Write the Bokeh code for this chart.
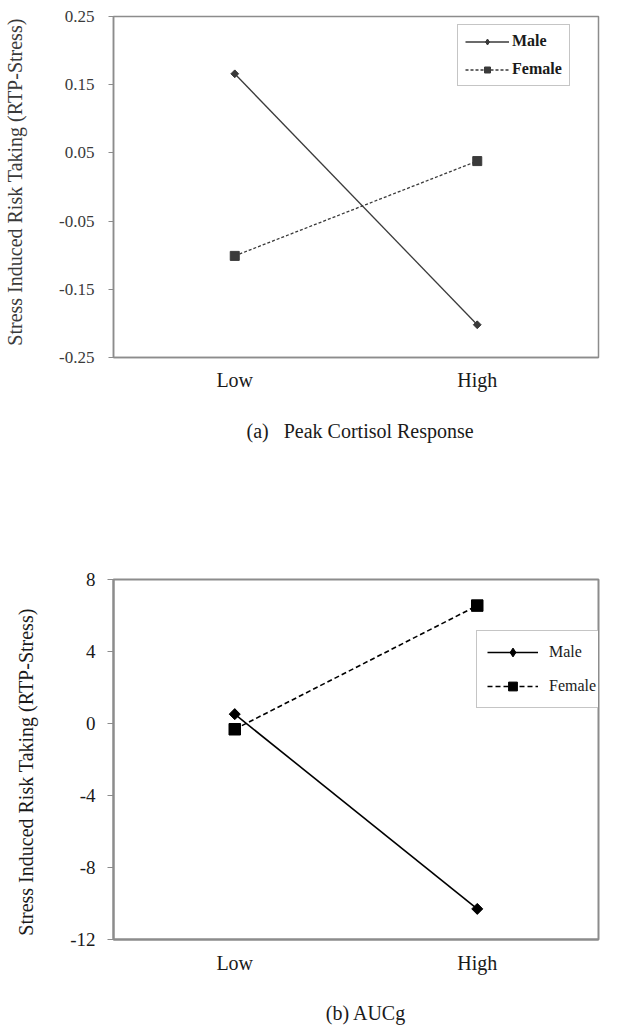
import math
from bokeh.plotting import figure
from bokeh.models import FactorRange, Range1d, FixedTicker, Legend, LegendItem, Title
from bokeh.layouts import column
from bokeh.embed import file_html
from bokeh.resources import INLINE

# ---------------- data ----------------
categories = ["Low", "High"]

# (a) Peak Cortisol Response
a_male = [0.166, -0.202]
a_female = [-0.101, 0.038]
a_ticks = [-0.25, -0.15, -0.05, 0.05, 0.15, 0.25]
a_tick_labels = ["-0.25", "-0.15", "-0.05", "0.05", "0.15", "0.25"]

# (b) AUCg
b_male = [0.52, -10.3]
b_female = [-0.32, 6.55]
b_ticks = [-12, -8, -4, 0, 4, 8]
b_tick_labels = ["-12", "-8", "-4", "0", "4", "8"]

series_names = ["Male", "Female"]
y_title = "Stress Induced Risk Taking (RTP-Stress)"
caption_a = "(a)\u00a0\u00a0 Peak Cortisol Response"
caption_b = "(b) AUCg"

FONT = "Liberation Serif"
NB = "\u00a0"


def make_panel(male, female, ticks, tick_labels, yr, cfg):
    p = figure(
        x_range=FactorRange(factors=categories, range_padding=0),
        y_range=Range1d(*yr),
        width=627, height=cfg["height"],
        min_border_left=cfg["bl"], min_border_right=cfg["br"],
        min_border_top=cfg["bt"], min_border_bottom=cfg["bb"],
        output_backend="svg", toolbar_location=None,
    )
    p.grid.visible = False
    p.background_fill_color = "white"
    p.border_fill_color = "white"
    p.outline_line_color = "#8c8c8c"
    p.outline_line_width = cfg["ow"]

    # y axis
    ya = p.yaxis[0]
    ya.ticker = FixedTicker(ticks=ticks)
    ya.major_label_overrides = {t: l for t, l in zip(ticks, tick_labels)}
    ya.minor_tick_line_color = None
    ya.major_tick_in = 0
    ya.major_tick_out = cfg["tick"]
    ya.major_tick_line_color = "#8c8c8c"
    ya.axis_line_color = "#8c8c8c"
    ya.axis_line_width = cfg["ow"]
    ya.major_label_text_font = FONT
    ya.major_label_text_font_size = cfg["tfs"]
    ya.major_label_text_color = cfg["tc"]
    ya.major_label_standoff = cfg["ylso"]
    ya.axis_label = cfg["ytitle"]
    ya.axis_label_text_font = FONT
    ya.axis_label_text_font_size = "20px"
    ya.axis_label_text_font_style = "normal"
    ya.axis_label_text_color = cfg["tc"]
    ya.axis_label_standoff = cfg["ytso"]

    # x axis
    xa = p.xaxis[0]
    xa.major_tick_line_color = None
    xa.minor_tick_line_color = None
    xa.axis_line_color = "#8c8c8c"
    xa.axis_line_width = cfg["ow"]
    xa.major_label_text_font = FONT
    xa.major_label_text_font_size = "20px"
    xa.major_label_text_color = "#1a1a1a"
    xa.major_label_standoff = cfg["xlso"]

    # series
    l1 = p.line(categories, male, line_color=cfg["lc"], line_width=cfg["lw"])
    # diamond used for the legend key (hidden under the rotated squares)
    dmd = p.scatter(categories, male, marker="diamond", size=cfg["dsize"] * 1.2,
                    fill_color=cfg["lc"], line_color=cfg["lc"])
    p.scatter(categories, male, marker="square", angle=math.pi / 4,
              size=cfg["dsize"], fill_color=cfg["lc"], line_color=cfg["lc"])
    l2 = p.line(categories, female, line_color=cfg["lc"], line_width=cfg["lw"],
                line_dash=cfg["dash"])
    s2 = p.scatter(categories, female, marker="square", size=cfg["ssize"],
                   fill_color=cfg["lc"], line_color=cfg["lc"])

    leg = Legend(
        items=[LegendItem(label=series_names[0], renderers=[l1, dmd]),
               LegendItem(label=series_names[1], renderers=[l2, s2])],
        location=cfg["legloc"],
        border_line_color="#8c8c8c", border_line_width=1.5,
        background_fill_color="white", background_fill_alpha=1.0,
        label_text_font=FONT, label_text_font_size="16px",
        label_text_font_style=cfg["legstyle"], label_text_color="#1a1a1a",
        label_text_line_height=1.0,
        glyph_width=cfg["gw"], glyph_height=cfg["gh"], label_height=cfg["lh"],
        label_standoff=cfg["lso"],
        padding=cfg["pad"], spacing=cfg["sp"], margin=0,
    )
    p.add_layout(leg)
    return p


cfg_a = dict(height=478, bl=110, br=29, bt=16, bb=121, ow=1.5, tick=5,
             tfs="17px", tc="#3a3a3a", ylso=14, ytso=30,
             ytitle=NB * 2 + y_title, xlso=5,
             lc="#3a3a3a", lw=1.3, dash="3 2", dsize=5.5, ssize=9,
             legloc=(344, 271), legstyle="bold", gw=44, gh=15, lh=18, lso=3,
             pad=7, sp=10)
cfg_b = dict(height=555, bl=113, br=10, bt=101, bb=94, ow=2, tick=6,
             tfs="19px", tc="#1a1a1a", ylso=12, ytso=30,
             ytitle=y_title + NB * 5, xlso=6,
             lc="black", lw=1.6, dash="5 3", dsize=7.8, ssize=11.5,
             legloc=(363, 231), legstyle="normal", gw=51, gh=22, lh=22, lso=11,
             pad=10, sp=12)

p1 = make_panel(a_male, a_female, a_ticks, a_tick_labels, (-0.25, 0.25), cfg_a)
p1.add_layout(Title(text=caption_a, align="left", offset=133,
                    text_font=FONT, text_font_size="20px",
                    text_font_style="normal", text_color="#1a1a1a",
                    standoff=48), "below")

p2 = make_panel(b_male, b_female, b_ticks, b_tick_labels, (-12, 8), cfg_b)
xb = p2.xaxis[0]
xb.axis_label = NB * 4 + caption_b
xb.axis_label_text_font = FONT
xb.axis_label_text_font_size = "20px"
xb.axis_label_text_font_style = "normal"
xb.axis_label_text_color = "#1a1a1a"
xb.axis_label_standoff = 25

layout = column(p1, p2, spacing=0)
open("out.html", "w").write(file_html(layout, INLINE))
